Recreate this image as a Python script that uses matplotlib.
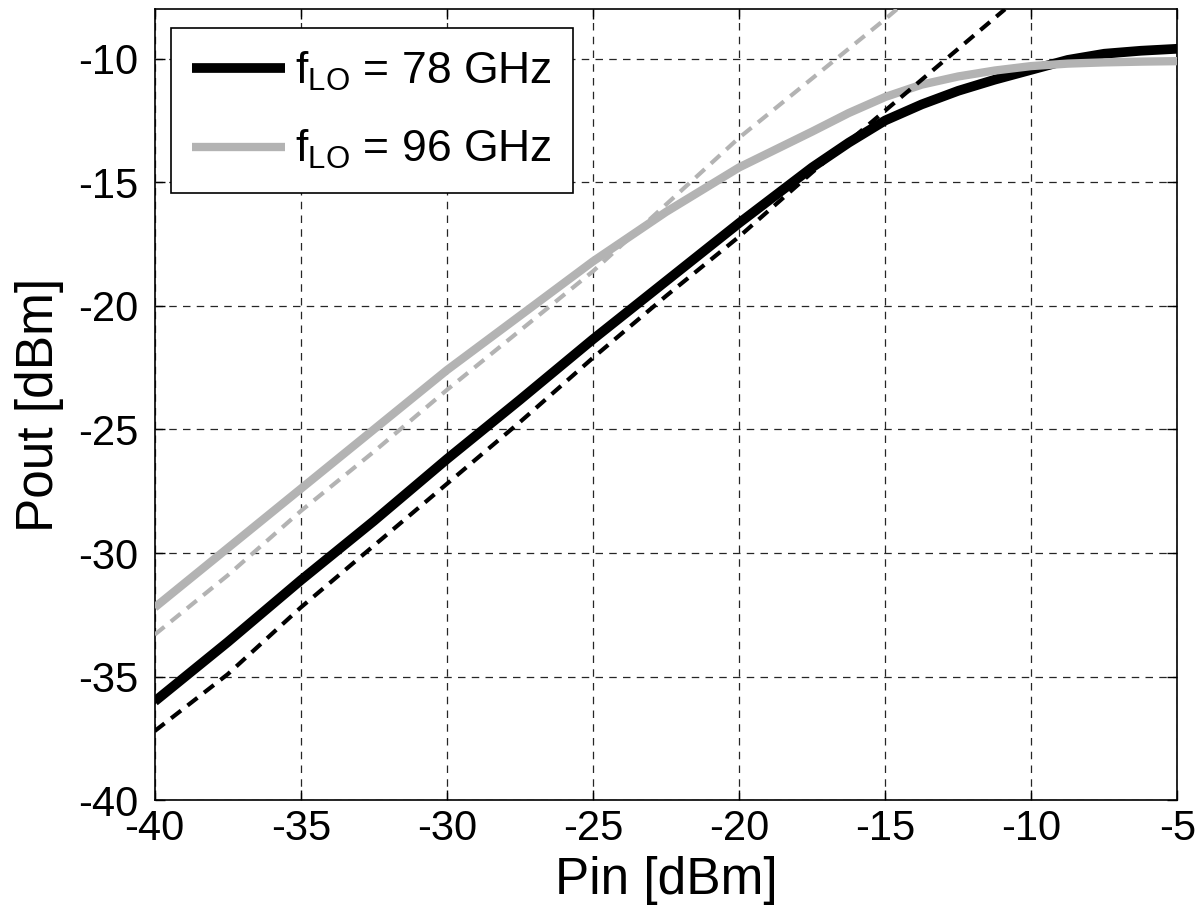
import matplotlib
matplotlib.use("Agg")
import matplotlib.pyplot as plt

plt.rcParams['font.family'] = ['Liberation Sans', 'DejaVu Sans']
plt.rcParams['mathtext.fontset'] = 'custom'
plt.rcParams['mathtext.rm'] = 'Liberation Sans'
plt.rcParams['mathtext.it'] = 'Liberation Sans:italic'
plt.rcParams['axes.unicode_minus'] = False

# Data (Pin in dBm, Pout in dBm)
pin = [-40, -37.5, -35, -32.5, -30, -27.5, -25, -22.5, -20, -17.5, -16.25, -15, -13.75,
       -12.5, -11.25, -10, -8.75, -7.5, -6.25, -5]
pout_78 = [-36.0, -33.6, -31.1, -28.7, -26.2, -23.8, -21.35, -19.0, -16.65, -14.4, -13.4,
           -12.5, -11.85, -11.3, -10.85, -10.45, -10.05, -9.8, -9.68, -9.6]
pout_96 = [-32.2, -29.8, -27.4, -25.0, -22.6, -20.4, -18.2, -16.2, -14.4, -12.95, -12.2,
           -11.55, -11.05, -10.72, -10.48, -10.3, -10.2, -10.15, -10.12, -10.1]

fit_pin_78 = [-40, -37.5, -35, -32.5, -30, -27.5, -25, -22.5, -20, -17.5, -15, -12.5, -10.9]
fit_78 = [-37.2, -34.9, -32.2, -29.7, -27.2, -24.7, -22.1, -19.6, -17.2, -14.6, -12.1, -9.6, -8.0]
fit_pin_96 = [-40, -37.5, -35, -32.5, -30, -27.5, -25, -22.5, -20, -17.5, -15, -14.6]
fit_96 = [-33.3, -30.9, -28.3, -25.9, -23.4, -21.0, -18.6, -15.9, -13.2, -10.8, -8.4, -8.0]

labels = [r'f$_{\mathrm{LO}}$ = 78 GHz', r'f$_{\mathrm{LO}}$ = 96 GHz']
gray = '#b3b3b3'

fig = plt.figure(figsize=(11.99, 9.22), dpi=100)
ax = fig.add_axes([0.129, 0.132, 0.853, 0.858])

ax.plot(pin, pout_78, color='black', lw=7.0, label=labels[0], solid_capstyle='butt',
        solid_joinstyle='round', zorder=3)
ax.plot(pin, pout_96, color=gray, lw=6.0, label=labels[1], solid_capstyle='butt',
        solid_joinstyle='round', zorder=3)
ax.plot(fit_pin_78, fit_78, color='black', lw=3.0, dashes=(3, 2), zorder=4)
ax.plot(fit_pin_96, fit_96, color=gray, lw=3.0, dashes=(3, 2), zorder=4)

ax.set_xlim(-40, -5)
ax.set_ylim(-40, -8)
ax.set_xticks(range(-40, -4, 5))
ax.set_yticks(range(-40, -9, 5))

ax.grid(True, color='0.15', lw=0.9, dashes=(6, 5))
ax.set_axisbelow(True)

ax.tick_params(direction='in', length=7, width=1.0, top=True, right=True,
               labelsize=30)
ax.tick_params(axis='x', pad=6)
ax.tick_params(axis='y', pad=12)
for s in ax.spines.values():
    s.set_linewidth(1.2)

ax.set_xlabel('Pin [dBm]', fontsize=37, labelpad=5)
ax.set_ylabel('Pout [dBm]', fontsize=37, labelpad=10)

leg = ax.legend(loc='upper left', bbox_to_anchor=(0.0157, 0.976), fontsize=32,
                frameon=True, fancybox=False, edgecolor='black', framealpha=1,
                handlelength=2.1, handletextpad=0.22, labelspacing=0.8,
                borderpad=0.48, borderaxespad=0)
leg.get_frame().set_linewidth(1.2)

fig.savefig('out.png', dpi=100)
